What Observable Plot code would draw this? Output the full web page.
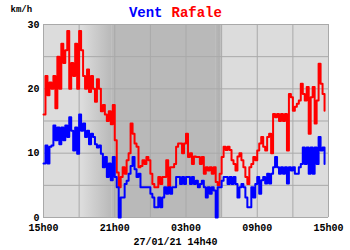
<!DOCTYPE html>
<html><head><meta charset="utf-8">
<script src="https://cdn.jsdelivr.net/npm/d3@7"></script>
<script src="https://cdn.jsdelivr.net/npm/@observablehq/plot@0.6"></script>
<style>body{margin:0;background:#fff}#chart{width:350px;height:250px}</style>
</head><body><div id="chart"></div>
<script>
// Time axis: minutes after 15h00, one sample every 10 minutes
const stepMinutes = 10;
const xTickMinutes = [0, 360, 720, 1080, 1440];
const xTickLabels = ["15h00", "21h00", "03h00", "09h00", "15h00"];
const yTicks = [0, 10, 20, 30];
const gridXMinutes = [0, 180, 360, 540, 720, 900, 1080, 1260, 1440];
const gridYValues = [0, 5, 10, 15, 20, 25, 30];

// Dusk / night / dawn periods (minutes after 15h00)
const dusk = [195, 345];
const night = [345, 870];
const dawn = [870, 900];

const seriesNames = ["Vent", "Rafale"];
const unitLabel = "km/h";
const captionText = "27/01/21 14h40";

const vent = [
  8.4, 11.2, 8.4, 11, 11.2, 14.3, 12, 14, 11.4, 14,
  12, 14.3, 12.5, 15.6, 13.5, 10.4, 14, 9.9, 16, 13.5,
  14.6, 12.5, 13.5, 11.4, 13, 12.5, 11.4, 10.9, 11.2, 9.9,
  7.8, 9.4, 6.3, 8.4, 5.8, 9.4, 6.3, 4.7, 0, 3.1,
  3.1, 5.2, 5.7, 6.8, 8, 9.4, 7.5, 6.3, 6.8, 4.7,
  4.7, 4.7, 4.7, 4.7, 3.7, 3.1, 1.6, 1.6, 3.1, 1.6,
  3.1, 4.7, 3.7, 4.7, 3.7, 4.7, 4.7, 6.3, 6.3, 5.2,
  6.3, 5.2, 6.3, 6.3, 5.2, 6.3, 5.2, 5.7, 4.7, 5.2,
  5.7, 4.7, 3.1, 4.7, 3.7, 4.7, 4.2, 0, 4.7, 4.7,
  5.7, 6.3, 6.3, 5.2, 6.3, 5.2, 6.3, 5.2, 3.1, 4.7,
  5.2, 4.7, 3.1, 1.6, 1.6, 4.7, 3.1, 5.2, 6.3, 3.7,
  5.8, 6.3, 5.3, 6.8, 5.3, 6.8, 7.8, 9.4, 7.8, 6.8,
  7.8, 6.8, 7.8, 5.3, 7.8, 7.3, 7.8, 6.8, 6.8, 7.8,
  8.3, 10.9, 8.3, 10.9, 6.8, 10.9, 6.8, 10.9, 8.3, 12.5,
  10.4, 10.9, 8.3
];

const rafale = [
  16, 22, 19, 21, 20, 22, 17, 25, 20, 27,
  24, 26, 29, 20, 24, 22, 27, 20, 29, 26,
  22, 20, 23, 19.5, 22, 20, 18, 21.5, 20, 16.5,
  17.5, 16, 15, 16.5, 14.5, 17.5, 12, 7, 4.7, 6.3,
  7.8, 6.8, 8.9, 10, 14.6, 13, 11.5, 11, 7.8, 8,
  8.9, 8.3, 9.4, 8.9, 6.8, 5.2, 4.7, 4.7, 6.3, 5.2,
  6.3, 6.3, 8.9, 4.7, 7.8, 7.8, 8.3, 11, 11.5, 11.5,
  10, 11.5, 13, 9.4, 10, 8.3, 9.5, 9.4, 9.4, 8.3,
  9.4, 6.8, 7.8, 7.3, 7.8, 6.8, 7.8, 5.5, 5, 6.8,
  9.4, 11, 10.5, 11, 10.5, 8.9, 8.3, 7.3, 9.5, 10,
  8.9, 7.8, 6.3, 5.2, 7.8, 8.3, 9.4, 8.9, 10.4, 11.5,
  12.5, 11, 10.4, 12.5, 13, 10, 16.1, 15.6, 16.1, 15,
  16.1, 15, 16.1, 10.4, 19.2, 18.7, 16.6, 17.2, 17.7, 18.2,
  20.8, 19.2, 18.2, 20.3, 13, 18.7, 20.3, 14.6, 18.2, 23.9,
  20.8, 19.2, 16.6
];

const ventData = vent.map((v, i) => ({t: i * stepMinutes, v}));
const rafaleData = rafale.map((v, i) => ({t: i * stepMinutes, v}));

const light = "#dcdcdc", dark = "#b9b9b9", gridColor = "#a9a9a9";

const svg = Plot.plot({
  width: 350,
  height: 250,
  marginLeft: 43,
  marginRight: 22,
  marginTop: 24,
  marginBottom: 33,
  style: {fontFamily: "'Liberation Mono', 'DejaVu Sans Mono', monospace", fontWeight: "bold", fontSize: "10px", background: "#fff", color: "#000"},
  x: {domain: [0, 1440], ticks: xTickMinutes, tickFormat: d => xTickLabels[xTickMinutes.indexOf(d)], tickSize: 0, tickPadding: 6, label: null},
  y: {domain: [0, 30], ticks: yTicks, tickSize: 0, tickPadding: 4, label: null},
  marks: [
    Plot.frame({fill: light, stroke: null}),
    Plot.rect([dusk], {x1: d => d[0], x2: d => d[1], fill: "url(#duskGrad)"}),
    Plot.rect([night], {x1: d => d[0], x2: d => d[1], fill: dark}),
    Plot.rect([dawn], {x1: d => d[0], x2: d => d[1], fill: "url(#dawnGrad)"}),
    Plot.ruleX(gridXMinutes, {stroke: gridColor, strokeWidth: 1}),
    Plot.ruleY(gridYValues, {stroke: gridColor, strokeWidth: 1}),
    Plot.line(rafaleData, {x: "t", y: "v", stroke: "#ff0000", strokeWidth: 2, curve: "step-after"}),
    Plot.line(ventData, {x: "t", y: "v", stroke: "#0000ff", strokeWidth: 2, curve: "step-after"}),
    Plot.text([seriesNames[0]], {text: d => d, frameAnchor: "top-left", dx: 119, dy: -17.5, textAnchor: "end", fill: "#0000ff", fontSize: 14, fontWeight: "bold"}),
    Plot.text([seriesNames[1]], {text: d => d, frameAnchor: "top-left", dx: 128, dy: -17.5, textAnchor: "start", fill: "#ff0000", fontSize: 14, fontWeight: "bold"}),
    Plot.text([unitLabel], {text: d => d, frameAnchor: "top-left", dx: -33, dy: -18.6, textAnchor: "start", fill: "#000", fontSize: 9, fontWeight: "bold"}),
    Plot.text([captionText], {text: d => d, frameAnchor: "bottom", dx: -10.6, dy: 27.5, fill: "#000", fontSize: 10, fontWeight: "bold"})
  ]
});

const defs = document.createElementNS("http://www.w3.org/2000/svg", "defs");
defs.innerHTML =
  `<linearGradient id="duskGrad" x1="0" x2="1" y1="0" y2="0"><stop offset="0" stop-color="${light}"/><stop offset="1" stop-color="${dark}"/></linearGradient>` +
  `<linearGradient id="dawnGrad" x1="0" x2="1" y1="0" y2="0"><stop offset="0" stop-color="${dark}"/><stop offset="0.7" stop-color="#b0b0b0"/><stop offset="1" stop-color="#c8c8c8"/></linearGradient>`;
svg.insertBefore(defs, svg.firstChild);
document.getElementById("chart").appendChild(svg);
</script>
</body></html>
